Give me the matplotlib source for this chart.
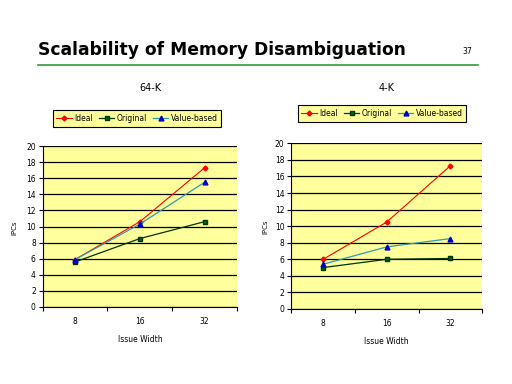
import matplotlib
matplotlib.use("Agg")
import matplotlib.pyplot as plt
from matplotlib.ticker import MultipleLocator, FixedLocator

categories = ["8", "16", "32"]
series_names = ["Ideal", "Original", "Value-based"]

k64_ideal = [5.9, 10.6, 17.3]
k64_original = [5.6, 8.5, 10.6]
k64_value = [5.9, 10.3, 15.5]

k4_ideal = [6.0, 10.5, 17.3]
k4_original = [5.0, 6.0, 6.1]
k4_value = [5.4, 7.5, 8.5]

W, H = 512, 384
fig = plt.figure(figsize=(W / 100, H / 100), dpi=100)
fig.patch.set_facecolor("white")

def fx(px):
    return px / W

def fy(py):
    return 1 - py / H

fig.text(fx(38), fy(50), "Scalability of Memory Disambiguation", fontsize=12.3,
         fontweight="bold", ha="left", va="center", family="DejaVu Sans")
fig.text(fx(467), fy(52), "37", fontsize=5.5, ha="center", va="center")
fig.add_artist(plt.Line2D([fx(38), fx(478)], [fy(65), fy(65)], color="#339933", lw=1.2))

face = "#FFFF9C"
styles = [
    dict(color="#FF0000", marker="D", markersize=2.5, markerfacecolor="#FF0000", markeredgecolor="#FF0000", lw=0.8),
    dict(color="#003300", marker="s", markersize=3.5, markerfacecolor="#006600", markeredgecolor="#003300", lw=0.9),
    dict(color="#3399AA", marker="^", markersize=3.5, markerfacecolor="#0000CC", markeredgecolor="#0000CC", lw=0.9),
]

def make_chart(rect, title, title_xy, data, legend_box, ylabel_xy):
    ax = fig.add_axes(rect)
    ax.set_facecolor(face)
    x = list(range(len(categories)))
    lines = []
    for name, vals, st in zip(series_names, data, styles):
        ln, = ax.plot(x, vals, label=name, **st, zorder=3)
        lines.append(ln)
    ax.set_xlim(-0.5, 2.5)
    ax.set_ylim(0, 20)
    ax.yaxis.set_major_locator(MultipleLocator(2))
    ax.grid(axis="y", color="black", lw=0.9, zorder=1)
    ax.set_axisbelow(True)
    ax.set_xticks(x)
    ax.set_xticklabels(categories)
    ax.xaxis.set_minor_locator(FixedLocator([-0.5, 0.5, 1.5, 2.5]))
    ax.tick_params(axis="x", which="major", length=0, pad=7, labelsize=5.5)
    ax.tick_params(axis="x", which="minor", length=3, width=0.8, direction="out")
    ax.tick_params(axis="y", which="major", length=3, width=0.8, direction="out", labelsize=5.5, pad=2)
    for s in ["top", "right"]:
        ax.spines[s].set_visible(False)
    for s in ["left", "bottom"]:
        ax.spines[s].set_linewidth(0.8)
    ax.set_xlabel("Issue Width", fontsize=5.5, labelpad=7)
    fig.text(ylabel_xy[0], ylabel_xy[1], "IPCs", rotation=90, fontsize=5, ha="center", va="center")
    fig.text(title_xy[0], title_xy[1], title, fontsize=7, ha="center", va="center")
    lx0, ly0, lx1, ly1 = legend_box
    leg = ax.legend(handles=lines, loc="center", ncol=3, fontsize=5.5,
                    bbox_to_anchor=(fx((lx0 + lx1) / 2), fy((ly0 + ly1) / 2)),
                    bbox_transform=fig.transFigure, frameon=True, fancybox=False,
                    handlelength=2.0, handletextpad=0.3, columnspacing=0.8,
                    borderpad=0.5, edgecolor="black", facecolor=face, framealpha=1)
    leg.get_frame().set_linewidth(0.8)
    return ax

make_chart([fx(42.7), fy(307), (237 - 42.7) / W, (307 - 146) / H], "64-K",
           (fx(150), fy(88)), [k64_ideal, k64_original, k64_value],
           (49, 110, 225, 127), (fx(14), fy(228)))
make_chart([fx(291.3), fy(309), (482.3 - 291.3) / W, (309 - 143.3) / H], "4-K",
           (fx(387), fy(88)), [k4_ideal, k4_original, k4_value],
           (298, 105, 466, 122), (fx(265), fy(227)))

fig.savefig("out.png", dpi=100)
